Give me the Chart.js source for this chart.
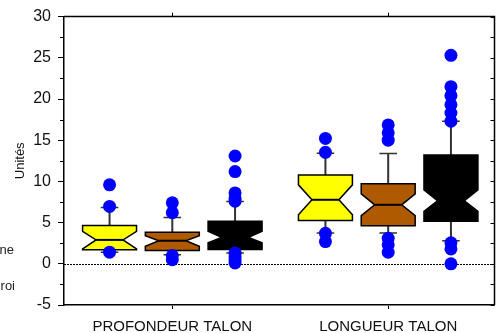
<!DOCTYPE html>
<html>
<head>
<meta charset="utf-8">
<script src="https://cdn.jsdelivr.net/npm/chart.js@4.4.1/dist/chart.umd.min.js"></script>
<style>
  html, body { margin: 0; padding: 0; background: #fff; }
  #wrap { width: 501px; height: 333px; }
</style>
</head>
<body>
<div id="wrap"><canvas id="chart"></canvas></div>
<script>
// ===== DATA =====
const groupLabels = ['PROFONDEUR TALON', 'LONGUEUR TALON'];
const groupTicks = [2, 5.44];
const boxPositions = [1, 2, 3, 4.44, 5.44, 6.44];
const boxColors = ['#FFFF00', '#B05A00', '#000000', '#FFFF00', '#B05A00', '#000000'];

const whiskerLow = [1.4, 1.1, 1.3, 3.75, 3.75, 2.8];
const q1 = [1.72, 1.62, 1.73, 5.27, 4.63, 5.15];
const notchLow = [1.8, 2.12, 2.54, 5.96, 5.84, 6.36];
const median = [2.9, 2.8, 3.2, 7.77, 7.16, 7.65];
const notchHigh = [3.94, 3.42, 3.94, 9.58, 8.49, 8.98];
const q3 = [4.66, 3.82, 5.15, 10.79, 9.7, 13.2];
const whiskerHigh = [6.84, 5.63, 7.57, 13.41, 13.38, 17.31];

const outliers = [
  [9.58, 6.96, 1.41],
  [7.4, 6.2, 1.0, 0.5],
  [13.08, 11.19, 8.6, 8.0, 7.6, 1.3, 0.9, 0.5, 0.1],
  [15.22, 13.53, 3.7, 2.7],
  [16.85, 15.9, 15.0, 3.1, 2.3, 1.4],
  [25.3, 21.5, 20.4, 19.3, 18.3, 17.3, 2.55, 1.8, 0.0]
];

const yMin = -5, yMax = 30, yStep = 5;

// ===== STYLE =====
const FONT = 'Arial, "Liberation Sans", sans-serif';
const BOX_HALF = 0.43;     // box half width, x units
const NOTCH_RATIO = 0.5;   // notch inner width / box width
const CAP_HALF = 0.14;

const points = [];
outliers.forEach((list, i) => list.forEach(v => points.push({ x: boxPositions[i], y: v })));

const boxPlugin = {
  id: 'notchedBoxes',
  beforeDatasetsDraw(chart) {
    const { ctx, chartArea: a, scales: { x, y } } = chart;
    ctx.save();
    // dotted zero line
    ctx.strokeStyle = '#000';
    ctx.lineWidth = 1;
    ctx.setLineDash([2, 1]);
    ctx.beginPath();
    ctx.moveTo(a.left, Math.round(y.getPixelForValue(0)) + 0.5);
    ctx.lineTo(a.right, Math.round(y.getPixelForValue(0)) + 0.5);
    ctx.stroke();
    ctx.setLineDash([]);

    boxPositions.forEach((p, i) => {
      const cx = x.getPixelForValue(p);
      const w = x.getPixelForValue(p + BOX_HALF) - cx;
      const wn = w * NOTCH_RATIO;
      const cw = x.getPixelForValue(p + CAP_HALF) - cx;
      const py = v => y.getPixelForValue(v);

      // whiskers
      ctx.strokeStyle = '#333';
      ctx.lineWidth = 2;
      ctx.beginPath();
      ctx.moveTo(cx, py(q3[i])); ctx.lineTo(cx, py(whiskerHigh[i]));
      ctx.moveTo(cx, py(q1[i])); ctx.lineTo(cx, py(whiskerLow[i]));
      ctx.stroke();
      ctx.lineWidth = 1.5;
      ctx.beginPath();
      ctx.moveTo(cx - cw, py(whiskerHigh[i])); ctx.lineTo(cx + cw, py(whiskerHigh[i]));
      ctx.moveTo(cx - cw, py(whiskerLow[i])); ctx.lineTo(cx + cw, py(whiskerLow[i]));
      ctx.stroke();

      // notched box
      ctx.beginPath();
      ctx.moveTo(cx - w, py(q3[i]));
      ctx.lineTo(cx + w, py(q3[i]));
      ctx.lineTo(cx + w, py(notchHigh[i]));
      ctx.lineTo(cx + wn, py(median[i]));
      ctx.lineTo(cx + w, py(notchLow[i]));
      ctx.lineTo(cx + w, py(q1[i]));
      ctx.lineTo(cx - w, py(q1[i]));
      ctx.lineTo(cx - w, py(notchLow[i]));
      ctx.lineTo(cx - wn, py(median[i]));
      ctx.lineTo(cx - w, py(notchHigh[i]));
      ctx.closePath();
      ctx.fillStyle = boxColors[i];
      ctx.fill();
      ctx.strokeStyle = '#000';
      ctx.lineWidth = 1.5;
      ctx.lineJoin = 'miter';
      ctx.stroke();

      // median
      ctx.lineWidth = 2;
      ctx.beginPath();
      ctx.moveTo(cx - wn, py(median[i]));
      ctx.lineTo(cx + wn, py(median[i]));
      ctx.stroke();
    });
    ctx.restore();
  },
  afterDraw(chart) {
    const { ctx, chartArea: a, scales: { x, y } } = chart;
    ctx.save();
    ctx.strokeStyle = '#000';
    ctx.lineWidth = 1.5;
    // top and right frame
    ctx.beginPath();
    ctx.moveTo(a.left, a.top); ctx.lineTo(a.right, a.top); ctx.lineTo(a.right, a.bottom);
    ctx.stroke();
    ctx.lineWidth = 1;
    ctx.beginPath();
    // top ticks (outward)
    groupTicks.forEach(t => {
      const px = Math.round(x.getPixelForValue(t)) + 0.5;
      ctx.moveTo(px, a.top); ctx.lineTo(px, a.top - 4);
    });
    // minor ticks left (outward) and all ticks right (inward)
    for (let v = yMin; v <= yMax + 0.01; v += yStep / 2) {
      const py = Math.round(y.getPixelForValue(v)) + 0.5;
      if (Math.abs(v % yStep) > 0.01) {
        ctx.moveTo(a.left, py); ctx.lineTo(a.left - 4, py);
      }
      ctx.moveTo(a.right, py); ctx.lineTo(a.right - 4, py);
    }
    ctx.stroke();

    // cut-off legend text at the left edge
    ctx.fillStyle = '#222';
    ctx.font = '13px ' + FONT;
    ctx.textAlign = 'right';
    ctx.textBaseline = 'alphabetic';
    ctx.fillText('ne', 14, 254);
    ctx.fillText('roi', 15, 290);
    ctx.restore();
  }
};

new Chart(document.getElementById('chart'), {
  type: 'scatter',
  data: {
    datasets: [{
      data: points,
      backgroundColor: '#0000FF',
      borderWidth: 0,
      pointRadius: 6.5,
      pointHoverRadius: 6.5,
      clip: false
    }]
  },
  options: {
    responsive: true,
    maintainAspectRatio: false,
    animation: false,
    layout: { padding: { top: 16, right: 2, bottom: 0, left: 0 } },
    plugins: { legend: { display: false }, tooltip: { enabled: false } },
    scales: {
      x: {
        type: 'linear',
        min: 0.274,
        max: 7.134,
        afterBuildTicks: (scale) => { scale.ticks = groupTicks.map(v => ({ value: v })); },
        afterFit: (scale) => { scale.height = 28; },
        ticks: {
          autoSkip: false,
          maxRotation: 0,
          padding: 9,
          color: '#111',
          font: { family: FONT, size: 15 },
          callback: (v) => groupLabels[groupTicks.indexOf(v)]
        },
        grid: { drawOnChartArea: false, tickLength: 4, color: '#000' },
        border: { color: '#000', width: 1.5 }
      },
      y: {
        min: yMin,
        max: yMax,
        afterFit: (scale) => { scale.width = 64; },
        ticks: {
          stepSize: yStep,
          padding: 7,
          color: '#111',
          font: { family: FONT, size: 16 }
        },
        grid: { drawOnChartArea: false, tickLength: 6, color: '#000' },
        border: { color: '#000', width: 1.5 },
        title: {
          display: true,
          text: 'Unités',
          color: '#111',
          font: { family: FONT, size: 13 },
          padding: { top: 13, bottom: 0 }
        }
      }
    }
  },
  plugins: [boxPlugin]
});
</script>
</body>
</html>
